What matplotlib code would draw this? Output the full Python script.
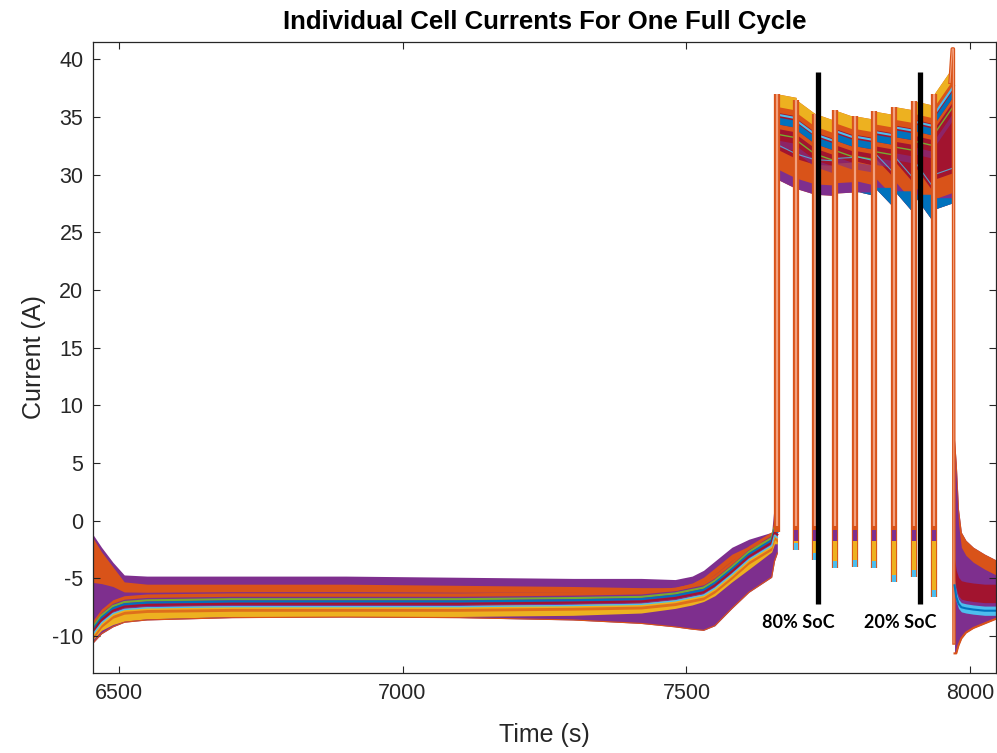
import numpy as np
import matplotlib
matplotlib.use("Agg")
import matplotlib.pyplot as plt

# MATLAB default line colours
BLUE, ORANGE, YELLOW, PURPLE = "#0072BD", "#D95319", "#EDB120", "#7E2F8E"
GREEN, LBLUE, RED = "#77AC30", "#4DBEEE", "#A2142F"
SALMON = "#F2A07E"

# --- rest / ramp part before the pulses (band edges) ---
t_rest = [6455, 6470, 6490, 6510, 6550, 6700, 6900, 7100, 7300, 7420, 7480,
          7510, 7530, 7550, 7580, 7610, 7650, 7655, 7660]
rest_top = [-1.2, -2.3, -3.6, -4.7, -4.8, -4.8, -4.8, -4.9, -5.0, -5.0, -5.1,
            -4.8, -4.3, -3.5, -2.3, -1.6, -1.0, 1.6, 0.5]
rest_org = [-1.5, -2.7, -4.0, -5.3, -5.5, -5.5, -5.5, -5.6, -5.7, -5.8, -5.8,
            -5.4, -4.9, -4.1, -2.9, -2.2, -1.5, 0.8, 0.0]
rest_mid = [-9.4, -8.4, -7.6, -7.25, -7.1, -7.0, -7.0, -7.0, -6.9, -6.8, -6.5,
            -6.2, -6.0, -5.4, -4.2, -2.9, -1.7, -0.8, -1.0]
rest_yel = [-10.3, -9.5, -9.0, -8.7, -8.5, -8.3, -8.3, -8.3, -8.2, -8.0, -7.6,
            -7.3, -7.0, -6.5, -5.3, -4.2, -2.7, -2.0, -2.0]
rest_bot = [-10.6, -9.8, -9.2, -8.8, -8.6, -8.4, -8.35, -8.4, -8.6, -8.9, -9.2,
            -9.4, -9.5, -9.1, -7.6, -6.2, -4.9, -3.5, -2.8]

# --- pulse part: one block per pulse between the short rests ---
pulse_edges = [7660, 7693, 7726, 7761, 7796, 7831, 7866, 7901, 7936, 7971]
pulse_top_a = [37.0, 36.5, 35.3, 35.6, 35.1, 35.5, 35.9, 36.4, 37.0]
pulse_top_b = [36.7, 35.3, 34.7, 35.0, 34.8, 35.2, 35.6, 36.0, 39.5]
pulse_bot_a = [29.6, 28.8, 28.3, 28.4, 28.6, 28.9, 28.6, 28.2, 27.0]
pulse_bot_b = [28.8, 28.3, 28.2, 28.5, 28.2, 27.1, 26.6, 25.8, 27.6]
wedge_top = [np.nan, np.nan, np.nan, np.nan, 28.5, 28.9, 28.6, 28.3, 28.0]
dip_low = [-1.0, -2.5, -3.4, -4.1, -4.0, -4.1, -5.3, -4.9, -6.6]

# final spike and drop at the end of the discharge
end_t = [7964, 7968, 7970, 7971]
end_i = [38.0, 40.9, 40.9, -10.6]

# --- relaxation after the pulses ---
t_post = [7972, 7975, 7979, 7984, 7992, 8005, 8025, 8045]
post_top = [7.0, 5.0, 1.0, -1.0, -1.7, -2.3, -2.9, -3.4]
post_mid = [-4.0, -5.0, -5.6, -5.9, -6.0, -6.1, -6.2, -6.2]
post_bot = [-11.5, -11.5, -10.8, -10.2, -9.7, -9.3, -8.9, -8.5]

# SoC markers
soc_t = [7731, 7912]
soc_lo, soc_hi = -7.2, 38.9
soc_labels = ["80% SoC", "20% SoC"]
soc_label_t = [7697, 7877]
soc_label_i = -8.8

xticks = [6500, 7000, 7500, 8000]
yticks = list(range(-10, 45, 5))


def main():
    plt.rcParams["axes.unicode_minus"] = False
    fig = plt.figure(figsize=(9.97, 7.53), dpi=100)
    ax = fig.add_axes([93 / 997, 80 / 753, 903 / 997, 631 / 753])

    mid = np.array(rest_mid)
    org = np.array(rest_org)
    # rest / ramp band
    ax.fill_between(t_rest, rest_top, rest_bot, color=PURPLE, lw=0)
    ax.fill_between(t_rest, org, (org + mid) / 2 + 0.1, color=ORANGE, lw=0)
    ax.fill_between(t_rest, mid + 0.75, mid + 0.45, color=ORANGE, lw=0)
    ax.fill_between(t_rest, mid - 0.35, rest_yel, color=YELLOW, lw=0)
    ax.fill_between(t_rest, mid - 0.6, mid - 0.85, color=ORANGE, lw=0, alpha=0.7)
    ax.plot(t_rest, mid + 0.2, color=GREEN, lw=1.5)
    ax.plot(t_rest, mid, color=BLUE, lw=1.5)
    ax.plot(t_rest, mid - 0.2, color=RED, lw=1.5)
    ax.plot(t_rest, mid - 0.45, color=LBLUE, lw=1.0)
    ax.plot(t_rest, rest_bot, color=ORANGE, lw=0.8)

    # pulses
    for k in range(len(pulse_top_a)):
        t = [pulse_edges[k], pulse_edges[k + 1]]
        top = np.array([pulse_top_a[k], pulse_top_b[k]])
        bot = np.array([pulse_bot_a[k], pulse_bot_b[k]])
        ax.fill_between(t, top, bot, color=ORANGE, lw=0)
        ax.fill_between(t, top, top - 1.1, color=YELLOW, lw=0)
        ax.fill_between(t, top - 1.6, top - 2.6, color=RED, lw=0)
        ax.fill_between(t, top - 2.0, top - 2.6, color=BLUE, lw=0)
        ax.plot(t, top - 1.8, color=LBLUE, lw=1.5)
        ax.fill_between(t, top - 3.0, bot + 2.6, color=RED, lw=0)
        ax.fill_between(t, top - 4.0, top - 4.6, color=PURPLE, lw=0, alpha=0.6)
        ax.plot(t, top - 3.5, color=GREEN, lw=1.0)
        ax.plot(t, bot + 3.0, color=LBLUE, lw=0.8, alpha=0.8)
        ax.fill_between(t, bot, bot + 0.9, color=PURPLE, lw=0)
        if not np.isnan(wedge_top[k]):
            ax.fill_between(t, [wedge_top[k]] * 2, bot, color=BLUE, lw=0)

    # short rests between pulses (vertical dips)
    for k, lo in enumerate(dip_low):
        x = pulse_edges[k]
        top = pulse_top_a[k]
        ax.plot([x, x], [top, lo], color=ORANGE, lw=4.5, solid_capstyle="butt")
        ax.plot([x, x], [top, -0.5], color=SALMON, lw=1.6, solid_capstyle="butt")
        if k > 0:
            ax.plot([x, x], [-0.8, -1.8], color=PURPLE, lw=3, solid_capstyle="butt")
            ax.plot([x, x], [-1.8, lo + 0.6], color=YELLOW, lw=3, solid_capstyle="butt")
            ax.plot([x, x], [lo + 0.6, lo], color=LBLUE, lw=3, solid_capstyle="butt")

    ax.plot(end_t, end_i, color=ORANGE, lw=2.5)
    ax.plot(end_t, end_i, color=SALMON, lw=0.8)

    # relaxation
    pm = np.array(post_mid)
    pt = np.array(post_top)
    ax.fill_between(t_post, pt, post_bot, color=PURPLE, lw=0)
    ax.fill_between(t_post, pt, pt - 1.3, color=ORANGE, lw=0)
    ax.fill_between(t_post, pm + 0.7, pm - 0.9, color=RED, lw=0)
    ax.fill_between(t_post, pm - 1.2, pm - 2.0, color=LBLUE, lw=0)
    ax.plot(t_post, pm - 1.6, color=BLUE, lw=1.5)
    ax.plot(t_post, post_bot, color=ORANGE, lw=1.5)

    # SoC markers
    for x, lab, xl in zip(soc_t, soc_labels, soc_label_t):
        ax.plot([x, x], [soc_lo, soc_hi], color="black", lw=3.8, solid_capstyle="butt")
        ax.text(xl, soc_label_i, lab, ha="center", va="center", fontsize=13,
                fontweight="bold", family="Lato", color="black")

    ax.set_xlim(6455, 8045)
    ax.set_ylim(-13.2, 41.5)
    ax.set_xticks(xticks)
    ax.set_yticks(yticks)
    ax.tick_params(direction="in", length=5, width=0.8, top=True, right=True,
                   labelsize=15.5, colors="#262626", pad=7)
    for s in ax.spines.values():
        s.set_color("#262626")
        s.set_linewidth(0.9)

    font = "Liberation Sans"
    for lab in ax.get_xticklabels() + ax.get_yticklabels():
        lab.set_family(font)
    ax.set_xlabel("Time (s)", fontsize=18, family=font, color="#262626", labelpad=14)
    ax.set_ylabel("Current (A)", fontsize=18, family=font, color="#262626", labelpad=4)
    ax.set_title("Individual Cell Currents For One Full Cycle", fontsize=18.5,
                 fontweight="bold", family=font, pad=9)

    fig.savefig("out.png", dpi=100)
    plt.close(fig)


if __name__ == "__main__":
    main()
